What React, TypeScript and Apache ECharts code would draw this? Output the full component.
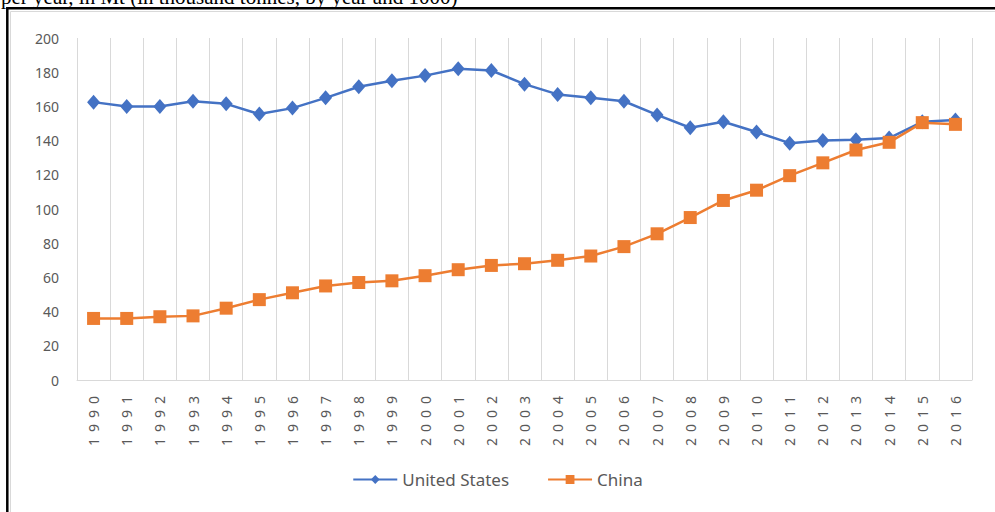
import React, { useEffect, useRef } from "react";
import * as echarts from "echarts";

const years: string[] = [
  "1990", "1991", "1992", "1993", "1994", "1995", "1996", "1997", "1998", "1999",
  "2000", "2001", "2002", "2003", "2004", "2005", "2006", "2007", "2008", "2009",
  "2010", "2011", "2012", "2013", "2014", "2015", "2016",
];

const unitedStates: number[] = [
  162.5, 160, 160, 163, 161.5, 155.5, 159, 165, 171.5, 175,
  178, 182, 181, 173, 167, 165, 163, 155, 147.5, 151,
  145, 138.5, 140, 140.5, 141.5, 151, 152,
];

const china: number[] = [
  36, 36, 37, 37.5, 42, 47, 51, 55, 57, 58,
  61, 64.5, 67, 68, 70, 72.5, 78, 85.5, 95, 105,
  111, 119.5, 127, 134.5, 139, 150.5, 149.5,
];

const yTicks = { min: 0, max: 200, interval: 20 };

const captionText = "per year, in Mt (in thousand tonnes, by year and 1000)";

const AXIS_GREY = "#595959";
const GRID_GREY = "#d9d9d9";
const FONT = '"Noto Sans", "Open Sans", sans-serif';

export default function App() {
  const ref = useRef<HTMLDivElement>(null);

  useEffect(() => {
    if (!ref.current) return;
    const chart = echarts.init(ref.current, undefined, { renderer: "svg" });
    chart.setOption({
      animation: false,
      backgroundColor: "#ffffff",
      textStyle: { fontFamily: FONT },
      graphic: [
        {
          type: "text",
          x: 1,
          y: 7,
          style: {
            text: captionText,
            font: '21px "Liberation Serif", "DejaVu Serif", serif',
            fill: "#000",
            verticalAlign: "bottom",
          },
        },
        {
          type: "rect",
          shape: { x: 7.3, y: 8.3, width: 1200, height: 700 },
          style: { fill: "none", stroke: "#000", lineWidth: 2.5 },
          silent: true,
        },
        {
          type: "rect",
          shape: { x: 10.5, y: 11.5, width: 1200, height: 700 },
          style: { fill: "none", stroke: GRID_GREY, lineWidth: 1 },
          silent: true,
        },
      ],
      grid: { left: 77, right: 23, top: 38, bottom: 132, containLabel: false },
      legend: {
        bottom: 19,
        left: "center",
        itemWidth: 44,
        itemHeight: 11,
        itemGap: 38,
        textStyle: { color: AXIS_GREY, fontSize: 17, fontFamily: FONT },
        data: ["United States", "China"],
      },
      xAxis: {
        type: "category",
        data: years,
        boundaryGap: true,
        axisTick: { show: false },
        axisLine: { lineStyle: { color: GRID_GREY, width: 1 } },
        splitLine: { show: true, interval: 0, lineStyle: { color: GRID_GREY, width: 1 } },
        axisLabel: {
          rotate: 90,
          interval: 0,
          margin: 10,
          color: AXIS_GREY,
          fontSize: 14,
          fontFamily: FONT,
        },
      },
      yAxis: {
        type: "value",
        min: yTicks.min,
        max: yTicks.max,
        interval: yTicks.interval,
        axisLine: { show: false },
        axisTick: { show: false },
        splitLine: { show: false },
        axisLabel: { color: AXIS_GREY, fontSize: 14, margin: 18, fontFamily: FONT },
      },
      series: [
        {
          name: "United States",
          type: "line",
          data: unitedStates,
          symbol: "diamond",
          symbolSize: [13, 15],
          lineStyle: { color: "#4472C4", width: 2.5 },
          itemStyle: { color: "#4472C4" },
          z: 2,
        },
        {
          name: "China",
          type: "line",
          data: china,
          symbol: "rect",
          symbolSize: 13,
          lineStyle: { color: "#ED7D31", width: 2.5 },
          itemStyle: { color: "#ED7D31" },
          z: 3,
        },
      ],
    });
    return () => chart.dispose();
  }, []);

  return (
    <>
      <style>{`#chart-root text[transform*="matrix(0,-1"], #chart-root text[transform*="matrix(0, -1"] { letter-spacing: 6px; }`}</style>
      <div
        id="chart-root"
        ref={ref}
        style={{ position: "fixed", left: 0, top: 0, width: 995, height: 512 }}
      />
    </>
  );
}
